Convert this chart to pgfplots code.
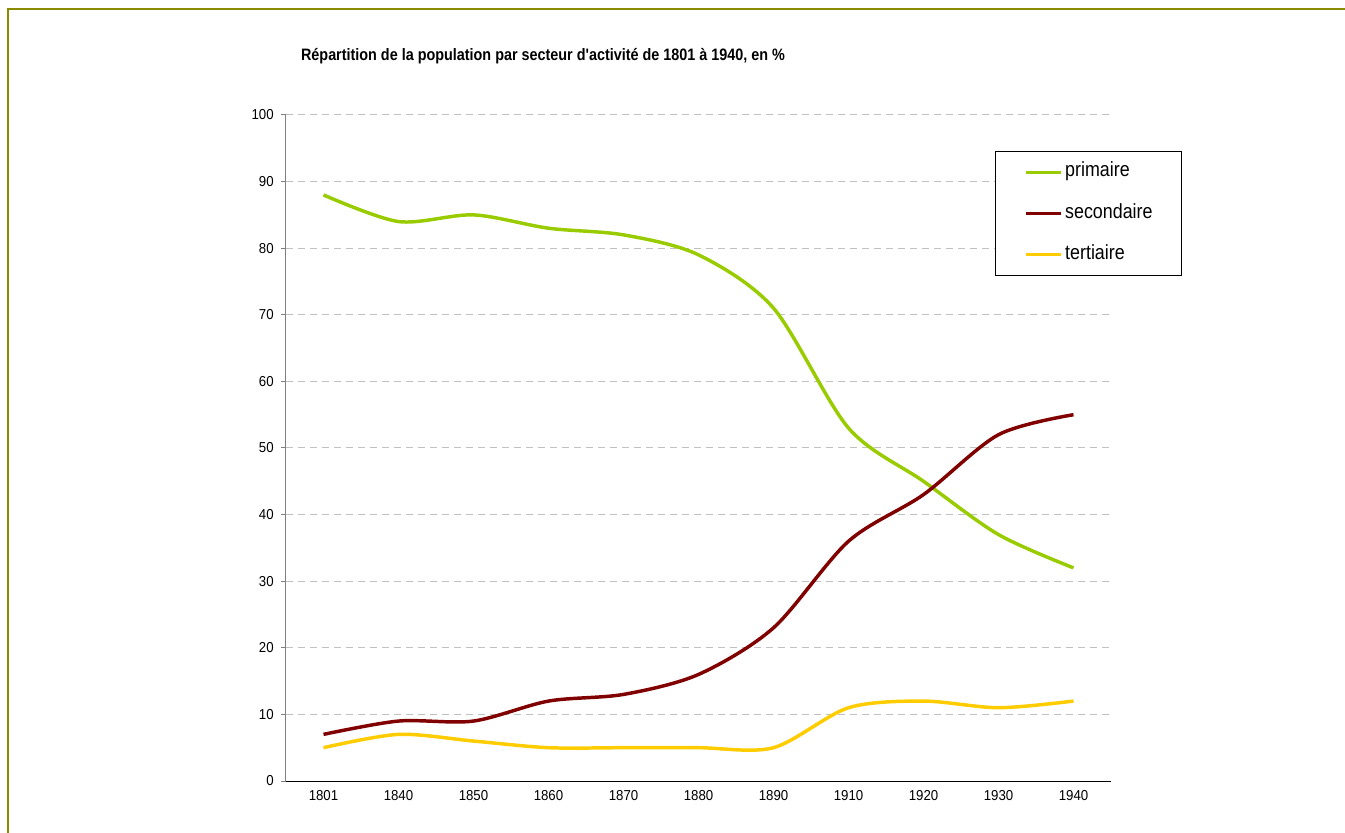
\documentclass[border=0pt]{standalone}
\usepackage{fontspec}
\setmainfont{Liberation Sans}
\newfontfamily\narrowfont[FakeStretch=0.87]{Liberation Sans}
\newfontfamily\tickfont[FakeStretch=0.92]{Liberation Sans}
\usepackage{pgfplots}
\pgfplotsset{compat=1.18}
\definecolor{prim}{HTML}{99CC00}
\definecolor{sec}{HTML}{800000}
\definecolor{ter}{HTML}{FFCC00}
\definecolor{frameol}{HTML}{8A8A00}
\definecolor{gridc}{HTML}{C0C0C0}
\begin{document}
\begin{tikzpicture}[x=0.75pt,y=0.75pt]
\path[use as bounding box] (-286,-51) rectangle (1059,781);
\draw[frameol, line width=1.5pt] (-277.5,-60) -- (-277.5,771.5) -- (1070,771.5);
\node[font=\narrowfont\bfseries\fontsize{12.4}{14}\selectfont] at (257,725) {Répartition de la population par secteur d'activité de 1801 à 1940, en \%};
\begin{axis}[at={(0,0)}, anchor=south west, scale only axis,
  width=618.75pt, height=499.5pt,
  xmin=-0.5, xmax=10.5, ymin=0, ymax=100,
  axis x line*=bottom, axis y line*=left,
  axis line style={-},
  x axis line style={black, line width=0.75pt},
  y axis line style={gray, line width=0.75pt},
  xtick={0,...,10},
  xticklabels={1801,1840,1850,1860,1870,1880,1890,1910,1920,1930,1940},
  x tick style={draw=none},
  minor xtick={-0.5,0.5,...,10.5},
  minor x tick style={black, line width=0.75pt},
  ytick={0,10,...,100},
  y tick style={gray, line width=0.75pt},
  tick align=outside,
  major tick length=3.75pt, minor tick length=3.75pt,
  ymajorgrids,
  major grid style={gridc, dash pattern=on 5.25pt off 3.75pt, line width=0.75pt},
  tick label style={font=\tickfont\fontsize{10.8}{12}\selectfont},
  yticklabel style={xshift=-2pt},
  /pgf/number format/assume math mode=true,
  legend style={at={(0.8594,0.9459)}, anchor=north west, draw=black, line width=0.75pt,
    font=\narrowfont\fontsize{15.4}{17}\selectfont, inner xsep=22pt, inner ysep=9pt,
    row sep=18pt, nodes={inner sep=0pt, text height=10pt, text depth=3pt}},
  legend cell align=left,
  legend image code/.code={\draw[#1, line width=2.25pt] (0pt,0pt) -- (26pt,0pt);},
]
\addplot[prim, line width=2.6pt, smooth, tension=0.5] coordinates {
 (0,88) (1,84) (2,85) (3,83) (4,82) (5,79) (6,71) (7,53) (8,45) (9,37) (10,32)};
\addlegendentry{\hspace{2pt}primaire}
\addplot[sec, line width=2.6pt, smooth, tension=0.5] coordinates {
 (0,7) (1,9) (2,9) (3,12) (4,13) (5,16) (6,23) (7,36) (8,43) (9,52) (10,55)};
\addlegendentry{\hspace{2pt}secondaire}
\addplot[ter, line width=2.6pt, smooth, tension=0.5] coordinates {
 (0,5) (1,7) (2,6) (3,5) (4,5) (5,5) (6,5) (7,11) (8,12) (9,11) (10,12)};
\addlegendentry{\hspace{2pt}tertiaire}
\end{axis}
\end{tikzpicture}
\end{document}
